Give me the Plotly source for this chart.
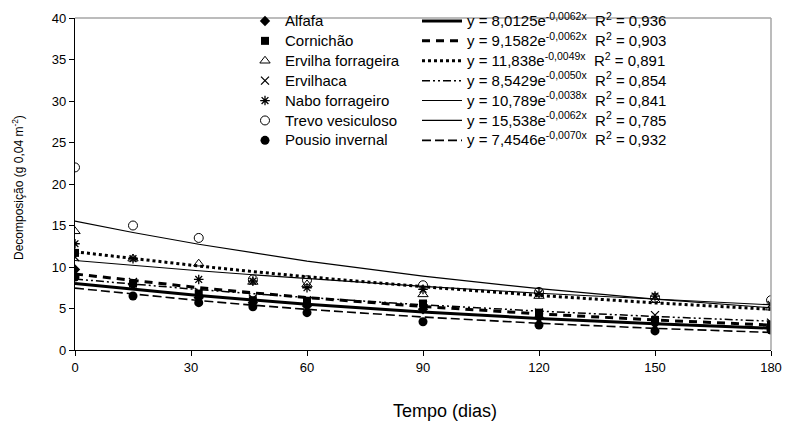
import numpy as np
import plotly.graph_objects as go

# ---- data ----
dias = [0, 15, 32, 46, 60, 90, 120, 150, 180]

nomes = ["Alfafa", "Cornichão", "Ervilha forrageira", "Ervilhaca",
         "Nabo forrageiro", "Trevo vesiculoso", "Pousio invernal"]

alfafa = [9.7, 7.9, 6.3, 5.7, 5.3, 4.9, 3.9, 3.2, 2.8]
cornichao = [11.7, 8.0, 6.8, 6.0, 5.9, 5.6, 4.5, 3.6, 3.0]
ervilha_forrageira = [14.3, 11.0, 10.4, 8.2, 7.9, 6.7, 6.5, 6.0, 5.1]
ervilhaca = [11.2, 8.2, 7.0, 6.2, 6.0, 5.4, 4.5, 4.2, 3.3]
nabo_forrageiro = [12.8, 11.0, 8.5, 8.3, 7.5, 7.3, 6.8, 6.5, 5.5]
trevo_vesiculoso = [22.0, 15.0, 13.5, 8.5, 8.4, 7.8, 7.0, 6.3, 6.0]
pousio_invernal = [8.8, 6.5, 5.7, 5.2, 4.5, 3.4, 3.0, 2.3, 2.4]

series = [alfafa, cornichao, ervilha_forrageira, ervilhaca,
          nabo_forrageiro, trevo_vesiculoso, pousio_invernal]

# exponential trend-line coefficients shown in the chart (y = a e^(b x))
coef_a = [8.0125, 9.1582, 11.838, 8.5429, 10.789, 15.538, 7.4546]
coef_b = [-0.0062, -0.0062, -0.0049, -0.0050, -0.0038, -0.0062, -0.0070]
coef_a_txt = ["8,0125", "9,1582", "11,838", "8,5429", "10,789", "15,538", "7,4546"]
coef_b_txt = ["-0,0062", "-0,0062", "-0,0049", "-0,0050", "-0,0038", "-0,0062", "-0,0070"]
r2_txt = ["0,936", "0,903", "0,891", "0,854", "0,841", "0,785", "0,932"]

x_ticks = [0, 30, 60, 90, 120, 150, 180]
y_ticks = [0, 5, 10, 15, 20, 25, 30, 35, 40]

# ---- styles ----
marker_styles = [
    dict(symbol="diamond", size=8, color="black"),
    dict(symbol="square", size=8, color="black"),
    dict(symbol="triangle-up-open", size=9, color="black", line=dict(width=1, color="black")),
    dict(symbol="x-thin-open", size=8, color="black", line=dict(width=1.3, color="black")),
    dict(symbol="asterisk-open", size=8, color="black", line=dict(width=1.3, color="black")),
    dict(symbol="circle-open", size=9, color="black", line=dict(width=1, color="black")),
    dict(symbol="circle", size=9, color="black"),
]
line_styles = [
    dict(color="black", width=3, dash="solid"),
    dict(color="black", width=3, dash="8px,6px"),
    dict(color="black", width=3, dash="3px,3px"),
    dict(color="black", width=1.5, dash="8px,3px,2px,3px,2px,3px"),
    dict(color="black", width=1.1, dash="solid"),
    dict(color="black", width=1.2, dash="solid"),
    dict(color="black", width=1.6, dash="9px,4px"),
]

SPAN = '<span style="font-size:15px">%s</span>'

fig = go.Figure()

t_arr = np.array(dias, dtype=float)
for i, nome in enumerate(nomes):
    fig.add_trace(go.Scatter(
        x=dias, y=series[i], mode="markers", name=SPAN % nome,
        marker=marker_styles[i], legend="legend", showlegend=True,
    ))
for i, nome in enumerate(nomes):
    trend = coef_a[i] * np.exp(coef_b[i] * t_arr)
    eq = ("y = %se<sup>%sx</sup>  R<sup>2</sup> = %s"
          % (coef_a_txt[i], coef_b_txt[i], r2_txt[i]))
    fig.add_trace(go.Scatter(
        x=dias, y=trend, mode="lines", name=SPAN % eq,
        line=line_styles[i], legend="legend2", showlegend=True,
    ))

W, H = 785, 423
ml, mr, mt, mb = 75, 14, 18, 73
pw, ph = W - ml - mr, H - mt - mb

def px_x(p):
    return (p - ml) / pw

def px_y(p):
    return (H - mb - p) / ph

legend_font = dict(family="Liberation Sans, Arial", size=13, color="black")

fig.update_layout(
    width=W, height=H,
    margin=dict(l=ml, r=mr, t=mt, b=mb, autoexpand=False),
    paper_bgcolor="white", plot_bgcolor="white",
    font=dict(family="Liberation Sans, Arial", color="black"),
    xaxis=dict(
        range=[0, 180], tickmode="array", tickvals=x_ticks,
        ticks="outside", ticklen=5, tickcolor="black",
        showline=True, linecolor="black", linewidth=1.2,
        showgrid=False, zeroline=False,
        tickfont=dict(family="Liberation Sans Narrow, Liberation Sans, Arial", size=13),
    ),
    yaxis=dict(
        range=[0, 40], tickmode="array", tickvals=y_ticks,
        ticks="outside", ticklen=5, tickcolor="black",
        showline=True, linecolor="black", linewidth=1.2,
        showgrid=False, zeroline=False,
        tickfont=dict(family="Liberation Sans, Arial", size=13),
    ),
    legend=dict(
        x=px_x(245), y=px_y(6), xanchor="left", yanchor="top",
        bgcolor="rgba(0,0,0,0)", font=legend_font,
        itemwidth=30, tracegroupgap=0, borderwidth=0,
    ),
    legend2=dict(
        x=px_x(417), y=px_y(6), xanchor="left", yanchor="top",
        bgcolor="rgba(0,0,0,0)", font=legend_font,
        itemwidth=40, tracegroupgap=0, borderwidth=0,
    ),
    shapes=[
        dict(type="line", xref="paper", yref="paper", x0=0, x1=1, y0=1, y1=1,
             line=dict(color="#a6a6a6", width=1.5)),
        dict(type="line", xref="paper", yref="paper", x0=1, x1=1, y0=0, y1=1,
             line=dict(color="#a6a6a6", width=1.5)),
    ],
    annotations=[
        dict(text="Tempo (dias)", xref="paper", yref="paper",
             x=px_x(445), y=px_y(411), xanchor="center", yanchor="middle",
             showarrow=False, font=dict(family="Liberation Sans, Arial", size=18)),
        dict(text="Decomposição (g 0,04 m<sup>-2</sup>)", xref="paper", yref="paper",
             x=px_x(18), y=px_y(188), xanchor="center", yanchor="middle",
             textangle=-90, showarrow=False,
             font=dict(family="Liberation Sans, Arial", size=12)),
    ],
)

fig.write_html("out.html", config={"displayModeBar": False},
               post_script="document.body.style.margin='0';")
